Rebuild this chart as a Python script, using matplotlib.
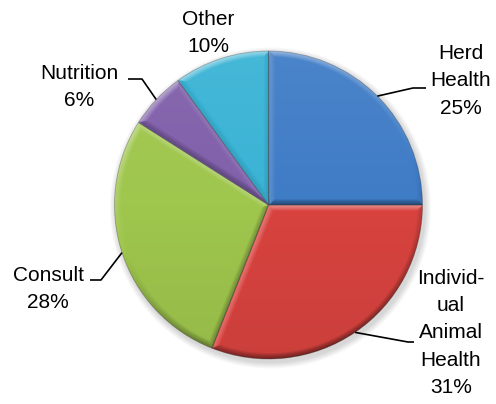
import numpy as np
import matplotlib
matplotlib.use("Agg")
import matplotlib.pyplot as plt
from matplotlib.colors import to_rgb

# data
categories = ["Herd\nHealth", "Individ-\nual\nAnimal\nHealth", "Consult", "Nutrition", "Other"]
shares = [25, 31, 28, 6, 10]
pct_labels = ["25%", "31%", "28%", "6%", "10%"]
colors = ["#3f7cc6", "#d8433f", "#9fc64d", "#8060aa", "#3ab3d5"]

W, H = 496, 404
cx, cy, R = 268.5, H - 205, 154

# label layout in pixels from top-left: text centre, elbow, line end (None = no leader)
label_pos = [(461, 81), (451, 333), (48, 289), (79, 87), (208, 33)]
elbows = [(413, 88), (408, 342), (101, 280), (142, 79), None]
line_ends = [(426, 88), (414, 342), (90, 280), (128, 79), None]

fig = plt.figure(figsize=(W / 100, H / 100), dpi=100)
ax = fig.add_axes([0, 0, 1, 1])

# soft shadow
for k in range(8):
    ax.add_patch(plt.Circle((cx + 2, cy - 3), R + 1 + k * 0.8, color="k",
                            alpha=0.018, lw=0, zorder=0))

wedges, _ = ax.pie(shares, colors=colors, startangle=90, counterclock=False,
                   center=(cx, cy), radius=R, frame=True,
                   wedgeprops=dict(linewidth=0.6, edgecolor="#2a2a2a55"))

# bevel shading image per wedge
xs = np.arange(cx - R - 2, cx + R + 2, 0.5)
ys = np.arange(cy - R - 2, cy + R + 2, 0.5)
X, Y = np.meshgrid(xs, ys)
dx, dy = X - cx, Y - cy
r = np.hypot(dx, dy) + 1e-9
light = np.array([-0.35, 1.0])
light = light / np.linalg.norm(light)
bw = 6.0
for w, col in zip(wedges, colors):
    t1, t2 = np.radians(w.theta1), np.radians(w.theta2)
    d_rim = R - r
    n_rim = (dx / r, dy / r)
    n1 = (np.sin(t1), -np.cos(t1))
    n2 = (-np.sin(t2), np.cos(t2))
    d1 = -(dx * n1[0] + dy * n1[1])
    d2 = -(dx * n2[0] + dy * n2[1])
    d = np.stack([d_rim, np.where(d1 < 0, 1e3, d1), np.where(d2 < 0, 1e3, d2)])
    idx = np.argmin(d, axis=0)
    dmin = np.min(d, axis=0)
    nx = np.choose(idx, [n_rim[0], np.full_like(r, n1[0]), np.full_like(r, n2[0])])
    ny = np.choose(idx, [n_rim[1], np.full_like(r, n1[1]), np.full_like(r, n2[1])])
    shade = nx * light[0] + ny * light[1]
    fall = np.clip(1 - dmin / bw, 0, 1) ** 0.8
    amount = shade * fall * 0.45
    amount = amount + 0.06 * (dy / R)
    base = np.array(to_rgb(col))
    img = np.empty(X.shape + (3,))
    for c in range(3):
        lighter = base[c] + (1 - base[c]) * np.clip(amount, 0, None)
        img[..., c] = np.where(amount > 0, lighter, base[c] * (1 + np.clip(amount, None, 0)))
    im = ax.imshow(np.clip(img, 0, 1), extent=(xs[0], xs[-1], ys[0], ys[-1]),
                   origin="lower", interpolation="bilinear", zorder=2)
    im.set_clip_path(w)
    w.set_zorder(3)
    w.set_facecolor("none")

ax.set_xlim(0, W)
ax.set_ylim(0, H)
ax.set_aspect("auto")
ax.axis("off")

font = dict(family=["Liberation Sans", "DejaVu Sans"], fontsize=15, color="black")
for w, name, pct, pos, elb, end in zip(wedges, categories, pct_labels,
                                       label_pos, elbows, line_ends):
    ax.text(pos[0], H - pos[1], name + "\n" + pct, ha="center", va="center",
            linespacing=1.55, zorder=5, **font)
    if elb is None:
        continue
    mid = np.radians((w.theta1 + w.theta2) / 2)
    sx, sy = cx + R * np.cos(mid), cy + R * np.sin(mid)
    ax.plot([sx, elb[0], end[0]], [sy, H - elb[1], H - end[1]],
            color="black", lw=1.2, zorder=4, solid_capstyle="butt")

fig.savefig("out.png", dpi=100)
